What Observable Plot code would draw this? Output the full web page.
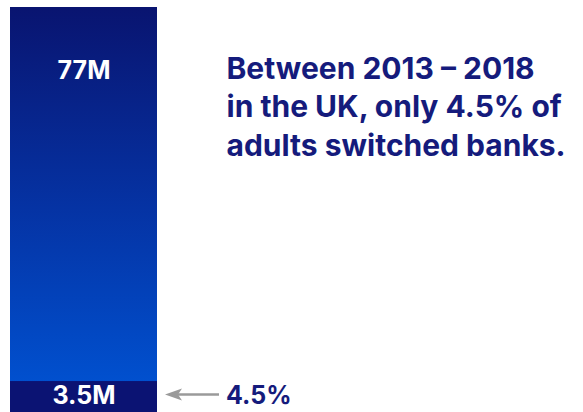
<!DOCTYPE html>
<html>
<head>
<meta charset="utf-8">
<script src="https://cdn.jsdelivr.net/npm/d3@7"></script>
<script src="https://cdn.jsdelivr.net/npm/@observablehq/plot@0.6"></script>
<style>
  html, body { margin: 0; padding: 0; background: #fff; }
  svg { display: block; }
  g[aria-label="title"] text { letter-spacing: 1px; }
</style>
</head>
<body>
<div id="chart"></div>
<script>
// ---- data ----
const categories = ["UK adults"];
const totalAdults = [77];        // millions
const switchedAdults = [3.5];    // millions
const totalLabels = ["77M"];
const switchedLabels = ["3.5M"];
const shareLabels = ["4.5%"];
const titleLines = ["Between 2013 \u2013 2018", "in the UK, only 4.5% of", "adults switched banks."];

const navy = "#0b1373";
const textNavy = "#151b7c";
const font = "Inter, 'DejaVu Sans', sans-serif";

const rows = categories.map((c, i) => ({
  cat: c, total: totalAdults[i], switched: switchedAdults[i],
  totalLabel: totalLabels[i], switchedLabel: switchedLabels[i], share: shareLabels[i]
}));

const defs = () => {
  const d = d3.create("svg:defs");
  const g = d.append("linearGradient").attr("id", "barGrad")
    .attr("x1", 0).attr("y1", 0).attr("x2", 0).attr("y2", 1);
  g.append("stop").attr("offset", "0%").attr("stop-color", "#091470");
  g.append("stop").attr("offset", "50%").attr("stop-color", "#0533a4");
  g.append("stop").attr("offset", "100%").attr("stop-color", "#0055d6");
  return d.node();
};

const arrowMark = (index, scales) => {
  const g = d3.create("svg:g");
  rows.forEach(r => {
    const xs = scales.x;
    const right = xs(r.cat) + (xs.bandwidth ? xs.bandwidth() : 0);
    const y = scales.y(r.switched / 2);
    const tip = right + 8;
    g.append("line")
      .attr("x1", tip + 12).attr("x2", tip + 54)
      .attr("y1", y).attr("y2", y)
      .attr("stroke", "#9a9a9a").attr("stroke-width", 2.5);
    g.append("path")
      .attr("d", `M${tip},${y} L${tip + 17},${y - 6} L${tip + 13},${y} L${tip + 17},${y + 6} Z`)
      .attr("fill", "#9a9a9a");
  });
  return g.node();
};

const chart = Plot.plot({
  width: 583,
  height: 412,
  margin: 0,
  style: { fontFamily: font, background: "#fff" },
  x: { type: "band", domain: categories, range: [10, 157], padding: 0, axis: null },
  y: { type: "pow", exponent: 0.832, domain: [0, 77], range: [412, 7], axis: null },
  marks: [
    defs,
    Plot.barY(rows, { x: "cat", y1: 0, y2: "total", fill: "url(#barGrad)" }),
    Plot.barY(rows, { x: "cat", y1: 0, y2: "switched", fill: navy }),
    Plot.text(rows, { x: "cat", y: "total", text: "totalLabel", dy: 63, fill: "white",
      fontSize: 25, fontWeight: 700 }),
    Plot.text(rows, { x: "cat", y: d => d.switched / 2, text: "switchedLabel", dy: 1, fill: "white",
      fontSize: 25, fontWeight: 700 }),
    arrowMark,
    Plot.text(rows, { x: "cat", y: d => d.switched / 2, text: "share", dx: 142, dy: 1,
      textAnchor: "start", fill: textNavy, fontSize: 25, fontWeight: 700 }),
    Plot.text([titleLines.join("\n")], { frameAnchor: "top-left", dx: 226, dy: 51,
      lineAnchor: "top", lineHeight: 1.28, textAnchor: "start", fill: textNavy,
      fontSize: 30, fontWeight: 700, ariaLabel: "title" })
  ]
});
document.getElementById("chart").append(chart);
</script>
</body>
</html>
